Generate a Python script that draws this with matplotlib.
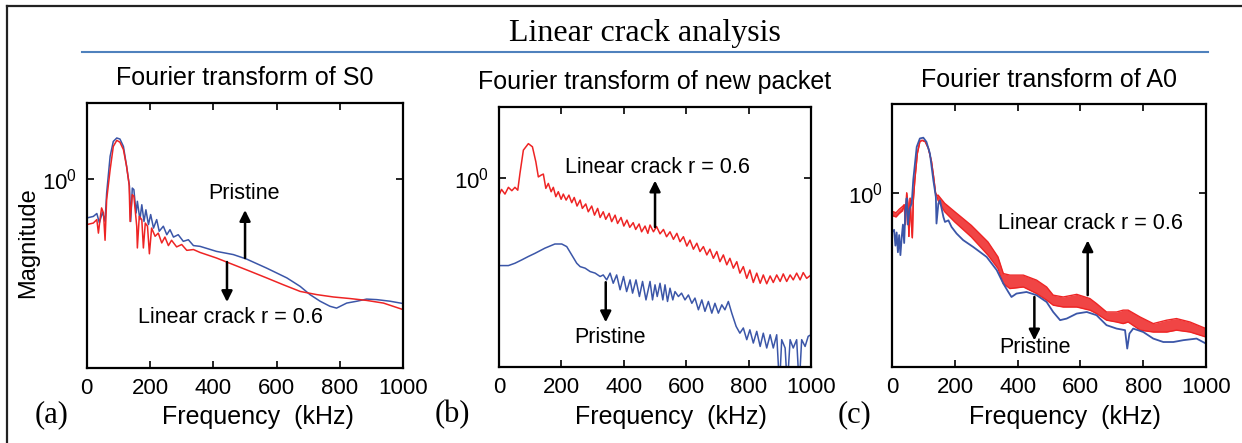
import matplotlib
matplotlib.use("Agg")
import matplotlib.pyplot as plt
from matplotlib.lines import Line2D
import numpy as np

plt.rcParams["font.family"] = ["Liberation Sans", "DejaVu Sans"]
plt.rcParams["mathtext.fontset"] = "custom"
plt.rcParams["mathtext.rm"] = "Liberation Sans"
plt.rcParams["mathtext.it"] = "Liberation Sans:italic"

RED = "#ee2424"
BLUE = "#3b56a8"

# values are log10 of the magnitude
# (a) Fourier transform of S0
s0_freq_pristine = [0, 21, 32, 40, 50, 58, 63, 74, 84, 95, 105, 116, 126, 135, 139, 144, 149, 156,
                    160, 168, 174, 181, 187, 195, 202, 211, 221, 229, 242, 253, 263, 274, 289, 305,
                    321, 337, 358, 410, 463, 505, 568, 632, 674, 705, 737, 768, 789, 821, 853, 884,
                    916, 958, 1000]
s0_log_pristine = [-0.147, -0.141, -0.130, -0.165, -0.125, -0.160, -0.053, 0.086, 0.142, 0.155,
                   0.151, 0.123, 0.048, -0.027, -0.160, -0.034, -0.040, -0.128, -0.084, -0.153,
                   -0.097, -0.160, -0.116, -0.172, -0.134, -0.185, -0.153, -0.197, -0.178, -0.210,
                   -0.191, -0.219, -0.210, -0.235, -0.229, -0.251, -0.254, -0.273, -0.285, -0.302,
                   -0.336, -0.373, -0.405, -0.436, -0.461, -0.480, -0.487, -0.468, -0.461, -0.453,
                   -0.455, -0.461, -0.470]
s0_freq_crack = [0, 21, 32, 37, 42, 47, 53, 58, 63, 74, 84, 95, 105, 116, 126, 134, 137, 144, 149,
                 158, 160, 166, 174, 179, 185, 192, 198, 205, 216, 226, 237, 247, 258, 268, 284,
                 300, 316, 337, 358, 410, 463, 516, 568, 621, 674, 726, 779, 832, 884, 937, 1000]
s0_log_crack = [-0.172, -0.166, -0.153, -0.204, -0.153, -0.109, -0.128, -0.231, -0.078, 0.035,
                0.123, 0.146, 0.139, 0.111, 0.048, -0.021, -0.160, -0.059, -0.065, -0.178,
                -0.260, -0.141, -0.153, -0.260, -0.166, -0.178, -0.282, -0.185, -0.216, -0.204,
                -0.241, -0.219, -0.251, -0.231, -0.256, -0.247, -0.269, -0.266, -0.277, -0.298,
                -0.323, -0.348, -0.373, -0.399, -0.424, -0.436, -0.445, -0.451, -0.458, -0.468,
                -0.493]

# (b) Fourier transform of new packet
pk_freq_crack = [0, 8, 19, 30, 41, 51, 60, 67, 78, 94, 107, 118, 126, 135, 142, 150, 158, 167,
                 174, 182, 190, 199, 206, 215, 224, 233, 241, 250, 260, 267, 278, 286, 297, 306,
                 316, 324, 334, 342, 353, 361, 372, 380, 391, 400, 410, 419, 430, 438, 449, 457,
                 468, 477, 484, 495, 505, 516, 527, 537, 548, 559, 570, 580, 591, 602, 612, 623,
                 634, 644, 655, 666, 676, 687, 698, 708, 719, 730, 740, 751, 762, 772, 783, 794,
                 804, 815, 826, 837, 847, 858, 869, 879, 890, 901, 911, 922, 933, 943, 954, 965,
                 975, 986, 1000]
pk_log_crack = [-0.064, -0.042, -0.060, -0.034, -0.047, -0.034, -0.045, 0.019, 0.109, 0.134,
                0.122, 0.064, 0.006, 0.013, 0.017, -0.038, -0.019, -0.051, -0.034, -0.070,
                -0.051, -0.080, -0.060, -0.083, -0.064, -0.093, -0.073, -0.106, -0.083, -0.115,
                -0.098, -0.128, -0.106, -0.141, -0.115, -0.150, -0.128, -0.157, -0.134, -0.166,
                -0.141, -0.173, -0.150, -0.183, -0.160, -0.188, -0.170, -0.196, -0.175, -0.205,
                -0.183, -0.211,
                -0.179, -0.205, -0.185, -0.213, -0.196, -0.224, -0.205, -0.234, -0.211, -0.243,
                -0.224, -0.260, -0.237, -0.272, -0.249, -0.281, -0.262, -0.294, -0.272, -0.307,
                -0.281, -0.320, -0.294, -0.332, -0.307, -0.345, -0.320, -0.364, -0.339, -0.384,
                -0.352, -0.400, -0.364, -0.403, -0.371, -0.405, -0.375, -0.400, -0.371, -0.396,
                -0.367, -0.396, -0.371, -0.390, -0.364, -0.390, -0.362, -0.384, -0.371]
pk_freq_pristine = [0, 30, 51, 73, 94, 115, 147, 179, 201, 217, 233, 249, 260, 276, 292, 308, 324,
                    334, 345, 356, 366, 377, 388, 399, 409, 420, 428, 439, 450, 460, 471, 484, 492,
                    500, 507, 516, 525, 532, 540, 548, 557, 564, 575, 585, 596, 607, 618, 628, 639,
                    650, 660, 671, 682, 692, 703, 714, 724, 735, 746, 760, 772, 783, 794, 804, 815,
                    826, 837, 847, 858, 869, 879, 890, 899, 906, 917, 924, 933, 943, 954, 962, 970,
                    981, 991, 1000]
pk_log_pristine = [-0.335, -0.335, -0.326, -0.313, -0.300, -0.288, -0.268, -0.252, -0.252, -0.262,
                   -0.294, -0.326, -0.339, -0.345, -0.358, -0.364, -0.377, -0.371, -0.390, -0.364,
                   -0.403, -0.371, -0.428, -0.377, -0.435, -0.390, -0.441, -0.390, -0.454, -0.396,
                   -0.467, -0.396, -0.467, -0.409, -0.454, -0.403, -0.467, -0.409, -0.473, -0.422,
                   -0.467, -0.435, -0.454, -0.441, -0.467, -0.448, -0.480, -0.460, -0.505, -0.467,
                   -0.511, -0.473, -0.518, -0.480, -0.518, -0.486, -0.505, -0.473, -0.518, -0.569,
                   -0.595, -0.575, -0.620, -0.582, -0.633, -0.588, -0.646, -0.595, -0.652, -0.601,
                   -0.652, -0.601, -0.800, -0.620, -0.652, -0.800, -0.620, -0.652, -0.620, -0.800,
                   -0.620, -0.646, -0.607, -0.601]

# (c) Fourier transform of A0 (crack curve is a dense band: upper / lower edge)
a0_freq_crack = [0, 12, 22, 32, 38, 42, 46, 50, 53, 57, 60, 64, 67, 72, 80, 88, 95, 105, 115, 125,
                 132, 138, 142, 146, 167, 199, 252, 305, 337, 354, 375, 418, 460, 492, 513, 545,
                 588, 630, 651, 683, 715, 736, 752, 790, 832, 875, 906, 949, 1000]
a0_log_crack_hi = [-0.070, -0.075, -0.062, -0.052, -0.045, -0.120, 0.000, -0.040, -0.165, -0.020,
                   -0.100, -0.170, -0.030, 0.050, 0.150, 0.195, 0.200, 0.195, 0.170, 0.120,
                   0.060, 0.000, -0.010, -0.008, -0.039, -0.071, -0.123, -0.186, -0.243, -0.306,
                   -0.312, -0.312, -0.331, -0.357, -0.388, -0.395, -0.385, -0.401, -0.420, -0.452,
                   -0.452, -0.445, -0.445, -0.471, -0.496, -0.483, -0.477, -0.490, -0.515]
a0_log_crack_lo = [-0.086, -0.091, -0.078, -0.068, -0.045, -0.120, 0.000, -0.040, -0.165, -0.020,
                   -0.100, -0.170, -0.030, 0.050, 0.150, 0.195, 0.200, 0.195, 0.170, 0.120,
                   0.060, 0.000, -0.010, -0.028, -0.071, -0.110, -0.167, -0.236, -0.287, -0.344,
                   -0.363, -0.357, -0.382, -0.407, -0.426, -0.433, -0.433, -0.445, -0.458, -0.483,
                   -0.490, -0.496, -0.490, -0.521, -0.528, -0.528, -0.521, -0.528, -0.547]
a0_freq_pristine = [0, 6, 10, 14, 18, 22, 26, 30, 34, 38, 42, 46, 50, 55, 62, 67, 78, 88, 99, 109,
                    120, 131, 139, 141, 147, 152, 163, 168, 179, 189, 205, 226, 258, 301, 333, 354,
                    370, 380, 396, 428, 460, 492, 513, 535, 556, 588, 620, 651, 683, 715, 742, 749,
                    756, 768, 800, 832, 864, 896, 928, 970, 1000]
a0_log_pristine = [-0.148, -0.140, -0.200, -0.150, -0.225, -0.160, -0.236, -0.170, -0.120, -0.190,
                   -0.060, -0.020, -0.120, -0.060, -0.040, 0.050, 0.175, 0.207, 0.210, 0.194,
                   0.150, 0.048, -0.015, -0.116, -0.040, -0.028, -0.091, -0.110, -0.104, -0.129,
                   -0.154, -0.179, -0.205, -0.243, -0.293, -0.344, -0.376, -0.395, -0.382, -0.376,
                   -0.388, -0.414, -0.452, -0.483, -0.477, -0.458, -0.452, -0.464, -0.502, -0.515,
                   -0.521, -0.591, -0.534, -0.515, -0.528, -0.553, -0.566, -0.566, -0.559, -0.553,
                   -0.572]

xticks = [0, 200, 400, 600, 800, 1000]


def mag(v):
    return 10 ** np.array(v)


def style_axes(ax, lo, hi):
    ax.set_yscale("log")
    ax.set_xlim(0, 1000)
    ax.set_ylim(10 ** lo, 10 ** hi)
    ax.set_xticks(xticks)
    ax.set_yticks([1])
    ax.set_yticklabels([r"$10^{0}$"])
    ax.minorticks_off()
    ax.tick_params(direction="in", top=True, right=True, length=5, width=1.2,
                   labelsize=16, pad=7)
    for s in ax.spines.values():
        s.set_linewidth(1.6)


def arrow(ax, x, y0, y1):
    ax.annotate("", xy=(x, 10 ** y1), xytext=(x, 10 ** y0),
                arrowprops=dict(arrowstyle="-|>", color="k", lw=1.8, mutation_scale=16,
                                shrinkA=0, shrinkB=0))


fig = plt.figure(figsize=(12.42, 4.43), dpi=100)

ax1 = fig.add_axes([0.0698, 0.1693, 0.2550, 0.5982])
ax2 = fig.add_axes([0.4018, 0.1716, 0.2512, 0.5869])
ax3 = fig.add_axes([0.7184, 0.1709, 0.2526, 0.5944])

ann = 15.5

# (a)
ax1.plot(s0_freq_pristine, mag(s0_log_pristine), color=BLUE, lw=1.1)
ax1.plot(s0_freq_crack, mag(s0_log_crack), color=RED, lw=1.1)
style_axes(ax1, -0.713, 0.287)
arrow(ax1, 500, -0.298, -0.117)
arrow(ax1, 443, -0.313, -0.464)
ax1.text(497, 10 ** -0.053, "Pristine", ha="center", va="center", fontsize=ann)
ax1.text(453, 10 ** -0.521, "Linear crack r = 0.6", ha="center", va="center", fontsize=ann)

# (b)
ax2.plot(pk_freq_crack, mag(pk_log_crack), color=RED, lw=1.1)
ax2.plot(pk_freq_pristine, mag(pk_log_pristine), color=BLUE, lw=1.1)
style_axes(ax2, -0.725, 0.275)
arrow(ax2, 500, -0.187, -0.008)
arrow(ax2, 342, -0.399, -0.553)
ax2.text(508, 10 ** 0.043, "Linear crack r = 0.6", ha="center", va="center", fontsize=ann)
ax2.text(356, 10 ** -0.610, "Pristine", ha="center", va="center", fontsize=ann)

# (c)
ax3.fill_between(a0_freq_crack, mag(a0_log_crack_lo), mag(a0_log_crack_hi),
                 color=RED, alpha=0.85, lw=0)
ax3.plot(a0_freq_crack, mag(a0_log_crack_hi), color=RED, lw=1.0)
ax3.plot(a0_freq_crack, mag(a0_log_crack_lo), color=RED, lw=1.0)
ax3.plot(a0_freq_pristine, mag(a0_log_pristine), color=BLUE, lw=1.3)
style_axes(ax3, -0.662, 0.338)
arrow(ax3, 623, -0.388, -0.180)
arrow(ax3, 453, -0.395, -0.560)
ax3.text(632, 10 ** -0.116, "Linear crack r = 0.6", ha="center", va="center", fontsize=ann)
ax3.text(455, 10 ** -0.585, "Pristine", ha="center", va="center", fontsize=ann)

# panel titles, labels
fig.text(0.1973, 0.824, "Fourier transform of S0", ha="center", va="center", fontsize=18)
fig.text(0.5274, 0.815, "Fourier transform of new packet", ha="center", va="center", fontsize=18)
fig.text(0.8447, 0.819, "Fourier transform of A0", ha="center", va="center", fontsize=18)
for x in [0.2077, 0.540, 0.8575]:
    fig.text(x, 0.0587, "Frequency  (kHz)", ha="center", va="center", fontsize=18)
for x, lab in zip([0.0419, 0.3643, 0.6884], ["(a)", "(b)", "(c)"]):
    fig.text(x, 0.0632, lab, ha="center", va="center", fontsize=22, family="Liberation Serif")
fig.text(0.0225, 0.4515, "Magnitude", rotation=90, ha="center", va="center", fontsize=17)

fig.text(0.519, 0.9255, "Linear crack analysis", ha="center", va="center", fontsize=23,
         family="Liberation Serif")
fig.add_artist(Line2D([0.066, 0.9726], [0.8826, 0.8826], color="#4f81bd", lw=1.5))

# outer frame (top and left edges only are visible)
fig.add_artist(Line2D([0.0056, 1.0], [0.9865, 0.9865], color="#222222", lw=1.6))
fig.add_artist(Line2D([0.0056, 0.0056], [0.0, 0.9865], color="#222222", lw=1.6))

fig.savefig("out.png", dpi=100)
